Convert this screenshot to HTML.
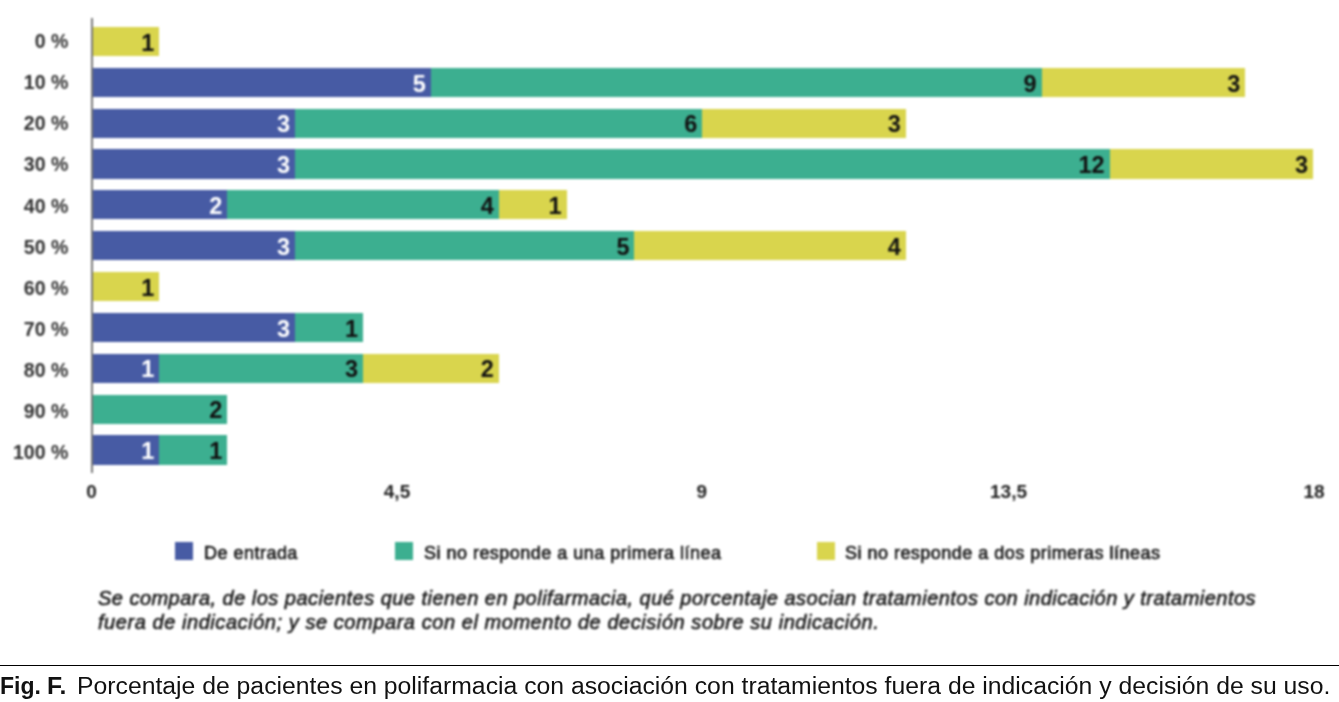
<!DOCTYPE html>
<html><head><meta charset="utf-8"><style>
html,body{margin:0;padding:0;background:#fff;}
body{width:1339px;height:702px;position:relative;overflow:hidden;font-family:"Liberation Sans",Arial,sans-serif;}
.axis{position:absolute;left:91.1px;top:18px;width:2px;height:454.5px;background:#777;z-index:2;}
.chart{position:absolute;left:0;top:0;width:1339px;height:660px;filter:url(#bl);}
.bar{position:absolute;}
.bar span{position:absolute;right:5.0px;top:1.8px;line-height:29.2px;font-size:23.5px;font-weight:bold;}
.yl{position:absolute;left:0;width:68.3px;text-align:right;height:30px;line-height:30px;font-size:19.5px;font-weight:bold;color:#303030;}
.xt{position:absolute;top:477px;width:80px;text-align:center;line-height:30px;font-size:19px;font-weight:bold;color:#222;}
.lg{position:absolute;top:541.5px;width:18px;height:18px;}
.lt{position:absolute;top:537.8px;font-size:18px;letter-spacing:0.48px;-webkit-text-stroke:0.6px currentColor;line-height:30px;color:#141414;white-space:nowrap;}
.note{position:absolute;left:98px;font-style:italic;font-size:20px;letter-spacing:0.44px;-webkit-text-stroke:0.6px currentColor;line-height:24px;color:#1a1a1a;white-space:nowrap;}
.rule{position:absolute;left:0;top:664.7px;width:1339px;height:1.5px;background:#000;}
.cap{position:absolute;top:672.8px;font-size:24.75px;line-height:26px;white-space:nowrap;color:#111;}
.capb{position:absolute;left:0px;top:672.8px;font-size:24.75px;line-height:26px;white-space:nowrap;color:#111;font-weight:bold;}
.capb span{display:inline-block;transform-origin:left center;}
.c1{transform:scaleX(0.93);}
.c2{position:absolute;left:47px;transform:scaleX(1.0);}
</style></head><body>
<svg width="0" height="0" style="position:absolute"><filter id="bl" x="0" y="0" width="1" height="1" color-interpolation-filters="sRGB"><feGaussianBlur stdDeviation="0.9"/></filter></svg>
<div class="chart">
<div class="axis"></div>
<div class="yl" style="top:26.20px">0 %</div>
<div class="bar" style="left:91.50px;top:26.90px;width:67.87px;height:29.2px;background:#d9d54d"><span style="color:#111">1</span></div>
<div class="yl" style="top:67.29px">10 %</div>
<div class="bar" style="left:91.50px;top:67.75px;width:339.35px;height:29.2px;background:#475ba4"><span style="color:#fff">5</span></div>
<div class="bar" style="left:430.85px;top:67.75px;width:610.83px;height:29.2px;background:#3caf90"><span style="color:#111">9</span></div>
<div class="bar" style="left:1041.68px;top:67.75px;width:203.61px;height:29.2px;background:#d9d54d"><span style="color:#111">3</span></div>
<div class="yl" style="top:108.38px">20 %</div>
<div class="bar" style="left:91.50px;top:108.60px;width:203.61px;height:29.2px;background:#475ba4"><span style="color:#fff">3</span></div>
<div class="bar" style="left:295.11px;top:108.60px;width:407.22px;height:29.2px;background:#3caf90"><span style="color:#111">6</span></div>
<div class="bar" style="left:702.33px;top:108.60px;width:203.61px;height:29.2px;background:#d9d54d"><span style="color:#111">3</span></div>
<div class="yl" style="top:149.47px">30 %</div>
<div class="bar" style="left:91.50px;top:149.45px;width:203.61px;height:29.2px;background:#475ba4"><span style="color:#fff">3</span></div>
<div class="bar" style="left:295.11px;top:149.45px;width:814.44px;height:29.2px;background:#3caf90"><span style="color:#111">12</span></div>
<div class="bar" style="left:1109.55px;top:149.45px;width:203.61px;height:29.2px;background:#d9d54d"><span style="color:#111">3</span></div>
<div class="yl" style="top:190.56px">40 %</div>
<div class="bar" style="left:91.50px;top:190.30px;width:135.74px;height:29.2px;background:#475ba4"><span style="color:#fff">2</span></div>
<div class="bar" style="left:227.24px;top:190.30px;width:271.48px;height:29.2px;background:#3caf90"><span style="color:#111">4</span></div>
<div class="bar" style="left:498.72px;top:190.30px;width:67.87px;height:29.2px;background:#d9d54d"><span style="color:#111">1</span></div>
<div class="yl" style="top:231.65px">50 %</div>
<div class="bar" style="left:91.50px;top:231.15px;width:203.61px;height:29.2px;background:#475ba4"><span style="color:#fff">3</span></div>
<div class="bar" style="left:295.11px;top:231.15px;width:339.35px;height:29.2px;background:#3caf90"><span style="color:#111">5</span></div>
<div class="bar" style="left:634.46px;top:231.15px;width:271.48px;height:29.2px;background:#d9d54d"><span style="color:#111">4</span></div>
<div class="yl" style="top:272.74px">60 %</div>
<div class="bar" style="left:91.50px;top:272.00px;width:67.87px;height:29.2px;background:#d9d54d"><span style="color:#111">1</span></div>
<div class="yl" style="top:313.83px">70 %</div>
<div class="bar" style="left:91.50px;top:312.85px;width:203.61px;height:29.2px;background:#475ba4"><span style="color:#fff">3</span></div>
<div class="bar" style="left:295.11px;top:312.85px;width:67.87px;height:29.2px;background:#3caf90"><span style="color:#111">1</span></div>
<div class="yl" style="top:354.92px">80 %</div>
<div class="bar" style="left:91.50px;top:353.70px;width:67.87px;height:29.2px;background:#475ba4"><span style="color:#fff">1</span></div>
<div class="bar" style="left:159.37px;top:353.70px;width:203.61px;height:29.2px;background:#3caf90"><span style="color:#111">3</span></div>
<div class="bar" style="left:362.98px;top:353.70px;width:135.74px;height:29.2px;background:#d9d54d"><span style="color:#111">2</span></div>
<div class="yl" style="top:396.01px">90 %</div>
<div class="bar" style="left:91.50px;top:394.55px;width:135.74px;height:29.2px;background:#3caf90"><span style="color:#111">2</span></div>
<div class="yl" style="top:437.10px">100 %</div>
<div class="bar" style="left:91.50px;top:435.40px;width:67.87px;height:29.2px;background:#475ba4"><span style="color:#fff">1</span></div>
<div class="bar" style="left:159.37px;top:435.40px;width:67.87px;height:29.2px;background:#3caf90"><span style="color:#111">1</span></div>
<div class="xt" style="left:51.50px">0</div>
<div class="xt" style="left:357.00px">4,5</div>
<div class="xt" style="left:661.70px">9</div>
<div class="xt" style="left:968.50px">13,5</div>
<div class="xt" style="left:1274.00px">18</div>
<div class="lg" style="left:175px;background:#475ba4"></div>
<div class="lt" style="left:204px">De entrada</div>
<div class="lg" style="left:395px;background:#3caf90"></div>
<div class="lt" style="left:424px">Si no responde a una primera línea</div>
<div class="lg" style="left:817px;background:#d9d54d"></div>
<div class="lt" style="left:845px">Si no responde a dos primeras líneas</div>
<div class="note" style="top:586px;letter-spacing:0.47px">Se compara, de los pacientes que tienen en polifarmacia, qué porcentaje asocian tratamientos con indicación y tratamientos</div>
<div class="note" style="top:610px;letter-spacing:0.56px">fuera de indicación; y se compara con el momento de decisión sobre su indicación.</div>
</div>
<div class="rule"></div>
<div class="capb"><span class="c1">Fig.</span> <span class="c2">F.</span></div><div class="cap" style="left:77px">Porcentaje de pacientes en polifarmacia con asociación con tratamientos fuera de indicación y decisión de su uso.</div>
</body></html>
